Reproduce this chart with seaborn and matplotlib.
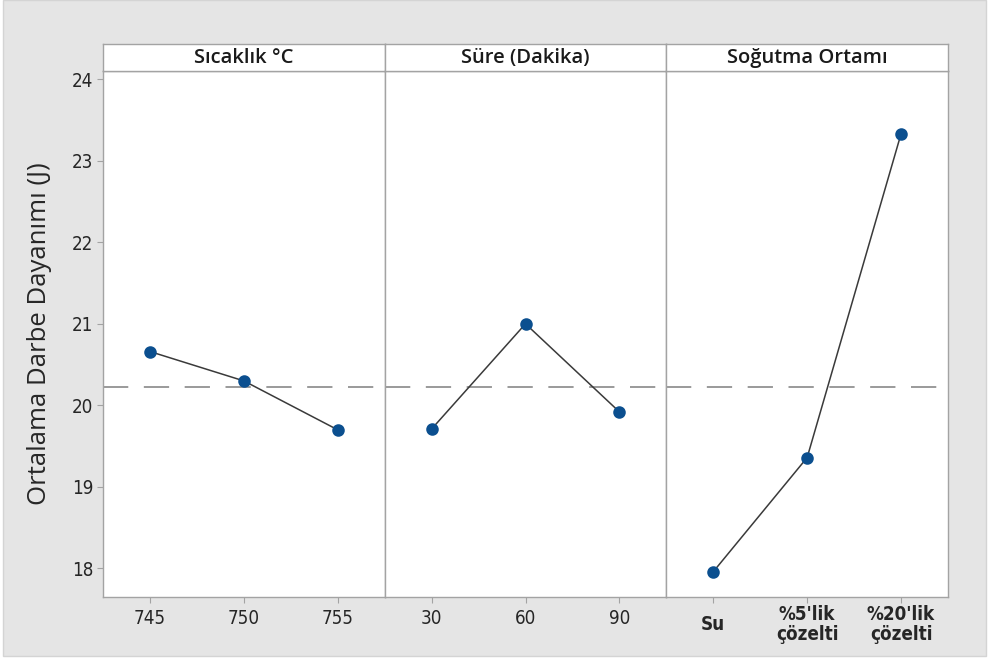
import matplotlib
matplotlib.use("Agg")
import matplotlib.pyplot as plt
from matplotlib.patches import Rectangle
import seaborn as sns
import pandas as pd

# Main effects for mean impact strength
factors = ["Sıcaklık °C", "Süre (Dakika)", "Soğutma Ortamı"]
sicaklik_levels = ["745", "750", "755"]
sicaklik_means = [20.66, 20.30, 19.70]
sure_levels = ["30", "60", "90"]
sure_means = [19.71, 21.00, 19.92]
ortam_levels = ["Su", "%5'lik\nçözelti", "%20'lik\nçözelti"]
ortam_means = [17.96, 19.36, 23.33]
grand_mean = 20.22
y_ticks = [18, 19, 20, 21, 22, 23, 24]
y_label = "Ortalama Darbe Dayanımı (J)"

levels = [sicaklik_levels, sure_levels, ortam_levels]
means = [sicaklik_means, sure_means, ortam_means]

sns.set_theme(style="white")
plt.rcParams["font.family"] = ["Open Sans", "DejaVu Sans"]

W, H = 992, 661
fig = plt.figure(figsize=(W / 100, H / 100), dpi=100)
fig.patch.set_facecolor("white")
bg = Rectangle((3 / W, 5 / H), 983 / W, 1 - 5 / H, transform=fig.transFigure,
               facecolor="#e5e5e5", edgecolor="#d4d4d4", lw=1, zorder=-10)
fig.patches.append(bg)

left, right = 103 / W, 948 / W
bottom, top = 1 - 597 / H, 1 - 71 / H
header_h = 27 / H
pw = (right - left) / 3

edge = "#a3a3a3"
line_col = "#3a3a3a"
dot_col = "#0b4f8f"
tick_font = ["DejaVu Sans"]

axes = []
for i in range(3):
    ax = fig.add_axes([left + i * pw, bottom, pw, top - bottom])
    df = pd.DataFrame({"level": levels[i], "mean": means[i]})
    ax.axhline(grand_mean, color="#9a9a9a", lw=1.4, dashes=(13, 8), zorder=1)
    sns.pointplot(data=df, x="level", y="mean", order=levels[i], errorbar=None,
                  color=line_col, markers="", linewidth=1.1, ax=ax, zorder=2)
    sns.pointplot(data=df, x="level", y="mean", order=levels[i], errorbar=None,
                  color=dot_col, markers="o", linestyles="none", markersize=7,
                  ax=ax, zorder=3)
    ax.set_xlim(-0.5, 2.5)
    ax.set_ylim(17.65, 24.10)
    ax.set_facecolor("white")
    ax.set_xlabel("")
    ax.set_ylabel("")
    for s in ax.spines.values():
        s.set_color(edge)
        s.set_linewidth(1.0)
        s.set_visible(True)
    ax.tick_params(axis="x", length=4, width=0.8, color=edge,
                   pad=(16 if i == 2 else 5), bottom=True, direction="out")
    for lab in ax.get_xticklabels():
        lab.set_fontfamily(tick_font)
        lab.set_fontstretch("condensed")
        lab.set_fontsize(13.5)
        lab.set_color("#262626")
        if i == 2:
            lab.set_fontweight("bold")
            lab.set_verticalalignment("center")
            lab.set_linespacing(1.05)
    if i == 0:
        ax.set_yticks(y_ticks)
        ax.tick_params(axis="y", length=4, width=0.8, color=edge, pad=3,
                       left=True, direction="out")
        for lab in ax.get_yticklabels():
            lab.set_fontfamily(tick_font)
            lab.set_fontstretch("condensed")
            lab.set_fontsize(13.5)
            lab.set_color("#262626")
        ax.set_ylabel(y_label, fontsize=18.5, color="#262626", labelpad=14)
    else:
        ax.set_yticks(y_ticks)
        ax.tick_params(axis="y", left=False, labelleft=False)
    axes.append(ax)

    hx = fig.add_axes([left + i * pw, top, pw, header_h])
    hx.set_xticks([])
    hx.set_yticks([])
    hx.set_facecolor("white")
    for s in hx.spines.values():
        s.set_color(edge)
        s.set_linewidth(1.0)
    hx.text(0.5, 0.48, factors[i], ha="center", va="center", fontsize=14.5,
            fontweight="semibold", color="#1a1a1a", transform=hx.transAxes)

fig.savefig("out.png", dpi=100, facecolor=fig.get_facecolor())
